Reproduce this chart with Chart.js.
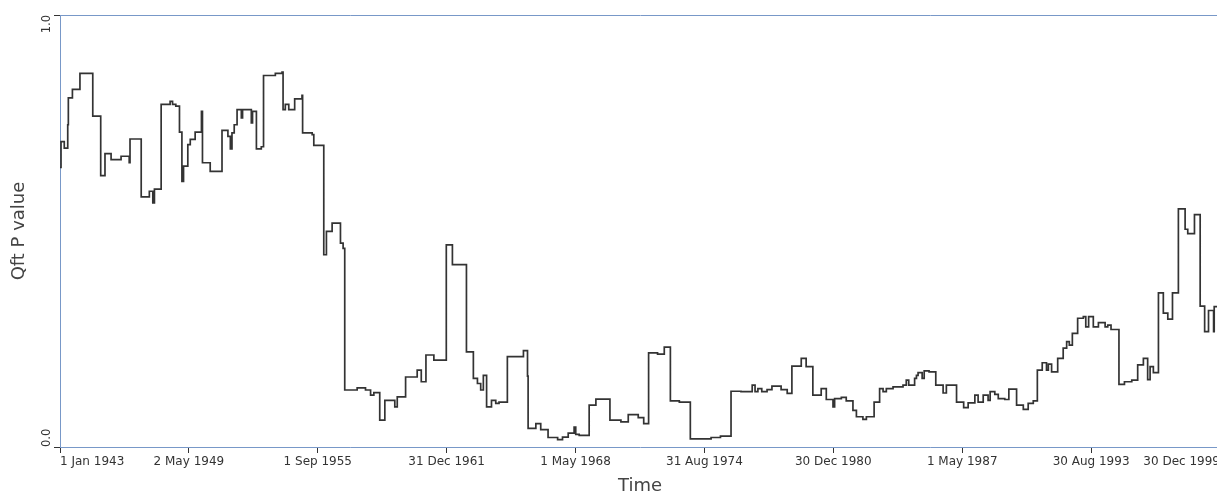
<!DOCTYPE html>
<html>
<head>
<meta charset="utf-8">
<title>Qft P value</title>
<script src="https://cdn.jsdelivr.net/npm/chart.js@4.4.1/dist/chart.umd.min.js"></script>
<style>
html, body { margin: 0; padding: 0; background: #fff; overflow: hidden; }
</style>
</head>
<body>
<canvas id="chart" width="1300" height="495"></canvas>
<script>
/* data: level start (decimal year) and P value */
const stepYears = [
1943.00, 1943.05, 1943.21, 1943.38, 1943.41, 1943.61, 1943.98, 1944.61, 1945.00, 1945.21,
1945.51, 1946.00, 1946.40, 1946.44, 1946.99, 1947.39, 1947.56, 1947.64, 1947.97, 1948.41,
1948.53, 1948.69, 1948.87, 1948.99, 1949.07, 1949.28, 1949.40, 1949.64, 1949.95, 1950.00,
1950.38, 1950.96, 1951.25, 1951.37, 1951.45, 1951.56, 1951.70, 1951.91, 1951.97, 1952.40,
1952.46, 1952.65, 1952.89, 1953.00, 1953.58, 1953.91, 1953.96, 1954.07, 1954.24, 1954.53,
1954.89, 1954.92, 1955.39, 1955.47, 1955.96, 1956.09, 1956.37, 1956.78, 1956.91, 1956.99,
1957.60, 1958.01, 1958.26, 1958.42, 1958.71, 1958.96, 1959.45, 1959.57, 1959.98, 1960.55,
1960.75, 1960.98, 1961.37, 1961.98, 1962.28, 1962.97, 1963.31, 1963.51, 1963.67, 1963.80,
1963.96, 1964.20, 1964.41, 1964.57, 1964.98, 1965.77, 1965.97, 1966.00, 1966.38, 1966.62,
1966.98, 1967.45, 1967.69, 1967.97, 1968.26, 1968.34, 1968.51, 1969.00, 1969.33, 1970.02,
1970.56, 1970.92, 1971.41, 1971.68, 1971.92, 1972.36, 1972.69, 1972.99, 1973.43, 1973.97,
1974.99, 1975.45, 1975.97, 1976.46, 1977.01, 1977.15, 1977.29, 1977.48, 1977.74, 1977.98,
1978.43, 1978.73, 1978.96, 1979.42, 1979.66, 1979.99, 1980.40, 1980.65, 1980.98, 1981.06,
1981.39, 1981.63, 1981.96, 1982.13, 1982.45, 1982.62, 1983.00, 1983.27, 1983.44, 1983.60,
1983.93, 1984.42, 1984.58, 1984.70, 1984.99, 1985.08, 1985.16, 1985.36, 1985.46, 1985.70,
1986.03, 1986.39, 1986.55, 1987.05, 1987.40, 1987.62, 1987.95, 1988.11, 1988.36, 1988.60,
1988.70, 1988.93, 1989.10, 1989.42, 1989.62, 1990.00, 1990.33, 1990.57, 1990.82, 1991.02,
1991.26, 1991.47, 1991.56, 1991.72, 1992.02, 1992.29, 1992.46, 1992.59, 1992.74, 1993.00,
1993.28, 1993.40, 1993.54, 1993.77, 1994.02, 1994.35, 1994.48, 1994.64, 1995.03, 1995.30,
1995.66, 1995.95, 1996.23, 1996.44, 1996.56, 1996.72, 1996.97, 1997.21, 1997.43, 1997.66,
1997.95, 1998.28, 1998.41, 1998.74, 1999.02, 1999.24, 1999.43, 1999.68, 1999.71, 1999.99
];

const pValues = [
0.647, 0.707, 0.692, 0.746, 0.808, 0.828, 0.865, 0.766, 0.628, 0.679,
0.665, 0.673, 0.658, 0.713, 0.579, 0.592, 0.565, 0.597, 0.793, 0.800,
0.793, 0.789, 0.729, 0.615, 0.650, 0.700, 0.712, 0.729, 0.777, 0.658,
0.638, 0.733, 0.719, 0.690, 0.727, 0.746, 0.781, 0.762, 0.781, 0.750,
0.777, 0.690, 0.695, 0.860, 0.865, 0.868, 0.781, 0.793, 0.781, 0.806,
0.814, 0.727, 0.723, 0.698, 0.445, 0.499, 0.518, 0.472, 0.460, 0.132,
0.137, 0.132, 0.120, 0.126, 0.062, 0.108, 0.093, 0.116, 0.162, 0.178,
0.151, 0.213, 0.201, 0.468, 0.422, 0.220, 0.159, 0.147, 0.132, 0.166,
0.093, 0.108, 0.101, 0.104, 0.209, 0.223, 0.164, 0.043, 0.054, 0.040,
0.022, 0.017, 0.023, 0.032, 0.046, 0.029, 0.027, 0.097, 0.111, 0.062,
0.058, 0.075, 0.068, 0.054, 0.218, 0.215, 0.231, 0.107, 0.104, 0.019,
0.022, 0.025, 0.129, 0.128, 0.143, 0.128, 0.135, 0.128, 0.133, 0.141,
0.133, 0.124, 0.187, 0.205, 0.186, 0.120, 0.135, 0.110, 0.093, 0.112,
0.115, 0.107, 0.085, 0.070, 0.064, 0.070, 0.104, 0.135, 0.128, 0.135,
0.139, 0.143, 0.155, 0.143, 0.159, 0.166, 0.172, 0.159, 0.176, 0.174,
0.143, 0.125, 0.143, 0.104, 0.091, 0.102, 0.120, 0.104, 0.120, 0.108,
0.128, 0.122, 0.112, 0.110, 0.134, 0.097, 0.087, 0.101, 0.107, 0.178,
0.195, 0.178, 0.192, 0.174, 0.205, 0.229, 0.244, 0.236, 0.263, 0.298,
0.302, 0.278, 0.302, 0.278, 0.288, 0.278, 0.282, 0.272, 0.145, 0.151,
0.155, 0.190, 0.205, 0.156, 0.186, 0.172, 0.357, 0.310, 0.296, 0.357,
0.551, 0.504, 0.494, 0.538, 0.326, 0.267, 0.316, 0.267, 0.325, 0.325
];

/* Axis ticks */
const tickDates = ["1943-01-01", "1949-05-02", "1955-09-01", "1961-12-31", "1968-05-01",
  "1974-08-31", "1980-12-30", "1987-05-01", "1993-08-30", "1999-12-30"];
const tickLabels = ["1 Jan 1943", "2 May 1949", "1 Sep 1955", "31 Dec 1961", "1 May 1968",
  "31 Aug 1974", "30 Dec 1980", "1 May 1987", "30 Aug 1993", "30 Dec 1999"];
const yTickValues = [0, 1];
const yTickLabels = ["0.0", "1.0"];

const FONT = "'DejaVu Sans', sans-serif";
const AXIS_BLUE = "#7898c8";
const INK = "#333";

function toYear(s) {
  const [y, m, d] = s.split("-").map(Number);
  const t = Date.UTC(y, m - 1, d), a = Date.UTC(y, 0, 1), b = Date.UTC(y + 1, 0, 1);
  return y + (t - a) / (b - a);
}

const tickYears = tickDates.map(toYear);
const xMin = tickYears[0];
const xMax = tickYears[tickYears.length - 1];

/* rotated y labels, kept inside the axis range like the original */
const yLabels = {
  id: "yLabels",
  afterDraw(chart) {
    const ctx = chart.ctx, y = chart.scales.y;
    ctx.save();
    ctx.font = "11.5px " + FONT;
    ctx.fillStyle = INK;
    ctx.textBaseline = "middle";
    yTickValues.forEach((v, i) => {
      ctx.save();
      ctx.translate(y.right - 13, y.getPixelForValue(v));
      ctx.rotate(-Math.PI / 2);
      ctx.textAlign = v === y.max ? "right" : "left";
      ctx.fillText(yTickLabels[i], 0, 0);
      ctx.restore();
    });
    ctx.restore();
  }
};

new Chart(document.getElementById("chart"), {
  type: "line",
  data: {
    datasets: [{
      data: stepYears.map((x, i) => ({ x: x, y: pValues[i] })),
      stepped: true,
      borderColor: INK,
      borderWidth: 1.7,
      pointRadius: 0,
      fill: false
    }]
  },
  options: {
    responsive: false,
    animation: false,
    layout: { padding: { left: 0, right: 80, top: 15, bottom: 0 } },
    plugins: { legend: { display: false }, tooltip: { enabled: false } },
    scales: {
      x: {
        type: "linear",
        min: xMin,
        max: xMax,
        afterBuildTicks: (axis) => { axis.ticks = tickYears.map(v => ({ value: v })); },
        afterFit: (axis) => { axis.height = 48; axis.paddingLeft = 0; axis.paddingRight = 0; },
        ticks: {
          autoSkip: false,
          maxRotation: 0,
          align: "inner",
          padding: 2,
          color: INK,
          font: { family: FONT, size: 12 },
          callback: (v, i) => tickLabels[i]
        },
        grid: { drawOnChartArea: false, tickLength: 6, color: AXIS_BLUE, tickColor: INK },
        border: { color: AXIS_BLUE },
        title: {
          display: true,
          text: "Time",
          color: "#444",
          font: { family: FONT, size: 18, lineHeight: 1 },
          padding: { top: 0, bottom: 0 }
        }
      },
      xTop: {
        type: "linear",
        position: "top",
        min: xMin,
        max: xMax,
        ticks: { display: false },
        grid: { drawOnChartArea: false, drawTicks: false, color: AXIS_BLUE },
        border: { color: AXIS_BLUE },
        afterFit: (axis) => { axis.height = 0; }
      },
      y: {
        min: 0,
        max: 1,
        afterBuildTicks: (axis) => { axis.ticks = yTickValues.map(v => ({ value: v })); },
        afterFit: (axis) => { axis.width = 60; axis.paddingTop = 0; axis.paddingBottom = 0; },
        ticks: { display: false },
        grid: { drawOnChartArea: false, tickLength: 6, color: AXIS_BLUE, tickColor: INK },
        border: { color: AXIS_BLUE },
        title: {
          display: true,
          text: "Qft P value",
          color: "#444",
          font: { family: FONT, size: 18, lineHeight: 1 },
          padding: { top: 10, bottom: 0 }
        }
      }
    }
  },
  plugins: [yLabels]
});
</script>
</body>
</html>
